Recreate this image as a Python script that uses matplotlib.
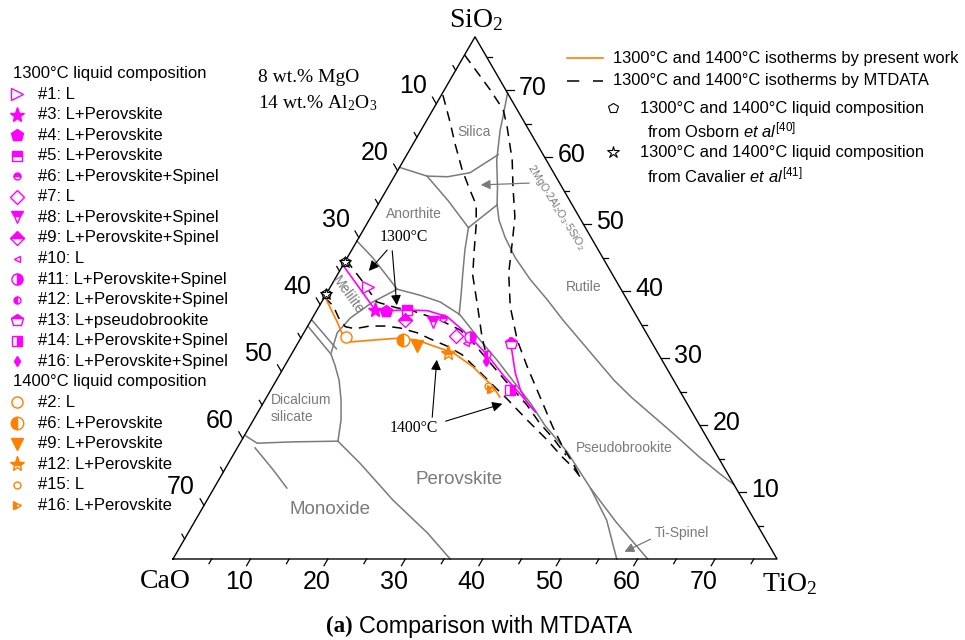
import numpy as np
import matplotlib.pyplot as plt
from matplotlib.lines import Line2D

plt.rcParams['font.family'] = ['Liberation Sans', 'DejaVu Sans']
plt.rcParams['mathtext.fontset'] = 'custom'
plt.rcParams['mathtext.rm'] = 'Liberation Sans'
plt.rcParams['mathtext.it'] = 'Liberation Sans:italic'
plt.rcParams['mathtext.bf'] = 'Liberation Sans:bold'

W, H = 965, 640
TOTAL = 78  # wt.% CaO + SiO2 + TiO2 (8 MgO and 14 Al2O3 fixed)

MAG = '#ff00ff'
ORG = '#ff7f00'
GRAY = '#7a7a7a'

# ---- phase field boundaries, wt.% (TiO2, SiO2), CaO = rest ----
silica_ti = [0.0, 4.2, 6.9, 9.5, 11.8]
silica_si = [58.5, 57.2, 57.1, 57.7, 60.4]
cordierite_ti = [8.4, 9.6, 10.2, 11.2, 12.0, 14.1, 15.4]
cordierite_si = [69.6, 66.0, 64.1, 61.6, 59.6, 55.6, 52.9]
anorthite_ti = [4.2, 8.8, 13.4]
anorthite_si = [57.2, 53.5, 49.5]
junction_ti = [15.4, 14.7, 13.4]
junction_si = [52.9, 51.7, 49.5]
anorthite_low_ti = [13.4, 14.6, 16.2, 17.5, 18.7]
anorthite_low_si = [49.5, 46.2, 42.4, 39.4, 36.5]
rutile_ti = [15.4, 16.8, 18.9, 21.7, 25.2, 29.0, 32.5, 36.2, 39.9, 43.6, 47.2, 51.1, 55.6, 60.4, 64.3, 66.9]
rutile_si = [52.9, 50.6, 48.0, 45.0, 41.8, 38.7, 35.7, 32.7, 29.7, 26.7, 24.1, 21.5, 18.5, 15.2, 12.7, 11.1]
melilite_ti = [0.0, 3.3, 8.8]
melilite_si = [47.5, 45.0, 40.3]
perovskite_top_ti = [8.8, 12.2, 15.3, 18.8, 23.3, 27.0, 30.5, 34.5, 38.0, 42.9, 48.6, 54.6, 61.3]
perovskite_top_si = [40.3, 39.4, 38.4, 36.5, 32.7, 29.7, 26.7, 23.3, 20.0, 16.0, 10.6, 5.4, 0.0]
melilite_low_ti = [8.8, 6.6, 4.9, 4.3, 5.0]
melilite_low_si = [40.3, 38.4, 36.0, 33.8, 30.9]
sliver_a_ti = [0.0, 5.1]
sliver_a_si = [34.8, 30.6]
sliver_b_ti = [0.2, 5.4]
sliver_b_si = [35.6, 31.4]
dicalcium_ti = [5.1, 6.4, 8.1, 9.8, 11.3, 12.5]
dicalcium_si = [30.6, 29.0, 26.7, 23.8, 20.8, 17.6]
dicalcium_low_ti = [0.0, 2.2, 6.8, 12.5]
dicalcium_low_si = [18.5, 17.3, 17.5, 17.6]
monoxide_ti = [12.5, 17.0, 24.0, 30.9, 35.8]
monoxide_si = [17.6, 14.3, 8.8, 3.9, 0.0]
monoxide_short_ti = [2.3, 6.3, 9.4]
monoxide_short_si = [16.6, 13.3, 10.6]
spinel_ti = [48.6, 53.1, 57.3]
spinel_si = [10.6, 5.8, 0.0]

boundaries = [
    (silica_ti, silica_si), (cordierite_ti, cordierite_si),
    (anorthite_ti, anorthite_si), (junction_ti, junction_si),
    (anorthite_low_ti, anorthite_low_si), (rutile_ti, rutile_si),
    (melilite_ti, melilite_si), (perovskite_top_ti, perovskite_top_si),
    (melilite_low_ti, melilite_low_si), (sliver_a_ti, sliver_a_si),
    (sliver_b_ti, sliver_b_si), (dicalcium_ti, dicalcium_si),
    (dicalcium_low_ti, dicalcium_low_si), (monoxide_ti, monoxide_si),
    (monoxide_short_ti, monoxide_short_si), (spinel_ti, spinel_si),
]

# ---- MTDATA isotherms (dashed) ----
mt_a_ti = [0.0, 5.9, 9.1, 10.9, 14.0, 16.1, 18.6, 20.0, 22.0, 24.7, 28.1, 31.4, 35.3, 39.2, 42.0, 44.3, 46.4]
mt_a_si = [75.3, 70.1, 67.1, 64.5, 59.6, 55.6, 51.1, 47.7, 42.7, 37.7, 32.7, 28.7, 24.2, 19.7, 16.7, 14.5, 12.3]
mt_b_ti = [0.2, 2.9, 5.5, 8.3, 10.8, 12.7, 14.2, 15.8, 17.5, 20.3, 23.3, 24.7]
mt_b_si = [69.3, 65.6, 61.9, 58.1, 55.1, 52.9, 49.9, 46.2, 42.4, 38.0, 33.2, 31.2]
mt_1300_ti = [0.0, 3.7, 7.1, 10.2, 12.0, 16.6, 20.0, 22.6, 26.3, 29.9, 34.2, 37.2, 40.0, 43.0]
mt_1300_si = [44.7, 41.5, 38.4, 37.5, 37.2, 35.7, 34.2, 32.3, 29.3, 26.4, 23.0, 20.3, 18.1, 15.5]
mt_1400_ti = [0.0, 1.8, 3.4, 4.9, 6.3, 8.0, 10.0, 12.1, 14.6, 17.2, 19.5, 22.1, 25.7, 28.7, 31.2, 35.3, 39.4, 42.7, 44.8, 46.4]
mt_1400_si = [39.1, 37.8, 36.0, 34.7, 34.4, 34.8, 34.8, 34.5, 33.8, 32.7, 31.8, 30.5, 27.9, 25.7, 23.9, 20.8, 17.8, 15.2, 13.7, 12.3]

# ---- present work isotherms ----
pw_1300_ti = [0.0, 7.5, 9.5, 11.6, 14.3, 17.3, 20.3, 22.4, 25.2, 29.1, 32.7, 35.8]
pw_1300_si = [43.9, 37.2, 37.1, 37.2, 37.1, 36.2, 34.2, 32.7, 30.6, 27.3, 24.5, 22.0]
pw_1300r_ti = [27.0, 28.4, 30.3, 32.2, 34.1, 35.8]
pw_1300r_si = [33.0, 30.8, 27.8, 25.3, 23.3, 22.0]
pw_1400_ti = [0.0, 3.6, 5.4, 6.4, 9.5, 12.8, 15.2, 17.2, 20.8, 24.4, 28.5, 30.1]
pw_1400_si = [39.2, 35.3, 33.2, 32.4, 32.7, 33.0, 32.7, 32.0, 30.8, 28.7, 25.7, 24.2]

# ---- measured liquid compositions ----
labels_1300 = ['#1: L', '#3: L+Perovskite', '#4: L+Perovskite', '#5: L+Perovskite',
               '#6: L+Perovskite+Spinel', '#7: L', '#8: L+Perovskite+Spinel',
               '#9: L+Perovskite+Spinel', '#10: L', '#11: L+Perovskite+Spinel',
               '#12: L+Perovskite+Spinel', '#13: L+pseudobrookite',
               '#14: L+Perovskite+Spinel', '#16: L+Perovskite+Spinel']
ti_1300 = [4.9, 7.5, 8.9, 11.6, 16.9, 19.9, 15.9, 12.1, 21.7, 21.8, 25.2, 27.5, 30.9, 25.6]
si_1300 = [40.6, 37.2, 37.1, 37.2, 36.0, 33.3, 35.4, 35.7, 32.3, 33.2, 30.6, 32.3, 25.3, 29.6]

labels_1400 = ['#2: L', '#6: L+Perovskite', '#9: L+Perovskite', '#12: L+Perovskite',
               '#15: L', '#16: L+Perovskite']
ti_1400 = [5.8, 13.3, 15.6, 20.1, 27.8, 28.4]
si_1400 = [33.2, 32.7, 31.8, 30.8, 25.8, 25.4]

osborn_ti = [0.0, 0.0]
osborn_si = [44.4, 39.6]
cavalier_ti = [0.0, 0.0]
cavalier_si = [44.4, 39.6]

style_1300 = [
    dict(marker='>', ms=9, mfc='white'),
    dict(marker='*', ms=11),
    dict(marker='p', ms=9),
    dict(marker='s', ms=7, fillstyle='top'),
    dict(marker='o', ms=5, fillstyle='top'),
    dict(marker='D', ms=7.5, mfc='white'),
    dict(marker='v', ms=8, fillstyle='top'),
    dict(marker='D', ms=7.5, fillstyle='top'),
    dict(marker='<', ms=5, mfc='white'),
    dict(marker='o', ms=8, fillstyle='right'),
    dict(marker='o', ms=5, fillstyle='left'),
    dict(marker='p', ms=9, fillstyle='top'),
    dict(marker='s', ms=7, fillstyle='right'),
    dict(marker='d', ms=5),
]
style_1400 = [
    dict(marker='o', ms=8, mfc='white'),
    dict(marker='o', ms=9, fillstyle='left'),
    dict(marker='v', ms=9),
    dict(marker='*', ms=11, fillstyle='top'),
    dict(marker='o', ms=5, mfc='white'),
    dict(marker='>', ms=6, fillstyle='left'),
]


def tern(ti, si):
    ti = np.asarray(ti, float)
    si = np.asarray(si, float)
    return ti + si / 2, si * np.sqrt(3) / 2


def mk(color, st):
    kw = dict(color=color, mec=color, mfc=color, markerfacecoloralt='white', mew=1.0)
    kw.update(st)
    return kw


def fp(x, y):
    return x / W, 1 - y / H


fig = plt.figure(figsize=(W / 100, H / 100), dpi=100)
ax = fig.add_axes([0, 0, 1, 1])
ax.set_xlim(-173 / 7.744, (W - 173) / 7.744)
ax.set_ylim((559 - H) / 7.73, 559 / 7.73)
ax.axis('off')

# frame
fx, fy = tern([0, TOTAL, 0, 0], [0, 0, TOTAL, 0])
ax.plot(fx, fy, color='k', lw=1.0, zorder=5)

# ticks and tick labels
h = np.sqrt(3) / 2
for v in range(5, TOTAL, 5):
    L = 1.0 if v % 10 == 0 else 0.7
    bx, by = tern(v, 0)
    ax.plot([bx, bx - 0.5 * L], [by, by - h * L], color='k', lw=0.9)
    lx, ly = tern(0, TOTAL - v)
    ax.plot([lx, lx - 0.5 * L], [ly, ly + h * L], color='k', lw=0.9)
    rx, ry = tern(TOTAL - v, v)
    ax.plot([rx, rx + L], [ry, ry], color='k', lw=0.9)
    if v % 10 == 0:
        ax.annotate(str(v), (bx, by), xytext=(-11, -23), textcoords='offset pixels',
                    ha='center', va='center', fontsize=18)
        ax.annotate(str(v), (lx, ly), xytext=(-23, 18), textcoords='offset pixels',
                    ha='center', va='center', fontsize=18)
        ax.annotate(str(v), (rx, ry), xytext=(27, 2), textcoords='offset pixels',
                    ha='center', va='center', fontsize=18)

serif = 'Liberation Serif'
fig.text(*fp(165, 582), 'CaO', family=serif, fontsize=20, ha='center', va='center')
fig.text(*fp(790, 584), r'TiO$\mathregular{_2}$', family=serif, fontsize=20, ha='center', va='center')
fig.text(*fp(476, 20), r'SiO$\mathregular{_2}$', family=serif, fontsize=20, ha='center', va='center')

# boundaries
for bt, bs in boundaries:
    x, y = tern(bt, bs)
    ax.plot(x, y, color=GRAY, lw=1.1, zorder=2)

# MTDATA dashed
for dt, ds in [(mt_a_ti, mt_a_si), (mt_b_ti, mt_b_si), (mt_1300_ti, mt_1300_si), (mt_1400_ti, mt_1400_si)]:
    x, y = tern(dt, ds)
    ax.plot(x, y, color='k', lw=1.1, dashes=(6.5, 4.5), zorder=3)

# present work
for pt_, ps in [(pw_1300_ti, pw_1300_si), (pw_1300r_ti, pw_1300r_si)]:
    x, y = tern(pt_, ps)
    ax.plot(x, y, color=MAG, lw=1.2, zorder=4)
x, y = tern(pw_1400_ti, pw_1400_si)
ax.plot(x, y, color=ORG, lw=1.2, zorder=4)

for t, s, st in zip(ti_1300, si_1300, style_1300):
    x, y = tern([t], [s])
    ax.plot(x, y, ls='none', zorder=6, **mk(MAG, st))
for t, s, st in zip(ti_1400, si_1400, style_1400):
    x, y = tern([t], [s])
    ax.plot(x, y, ls='none', zorder=6, **mk(ORG, st))

x, y = tern(osborn_ti, osborn_si)
ax.plot(x, y, ls='none', marker='p', ms=7, mfc='white', mec='k', mew=0.8, zorder=7)
x, y = tern(cavalier_ti, cavalier_si)
ax.plot(x, y, ls='none', marker='*', ms=9, mfc='none', mec='k', mew=0.8, zorder=7)

# phase field names
fkw = dict(color=GRAY, ha='center', va='center', fontsize=10)
fig.text(*fp(474, 132), 'Silica', **fkw)
fig.text(*fp(414, 214), 'Anorthite', **fkw)
fig.text(*fp(348, 295), 'Melilite', rotation=-54, **fkw)
fig.text(*fp(271, 400), 'Dicalcium', color=GRAY, ha='left', va='center', fontsize=10)
fig.text(*fp(271, 417), 'silicate', color=GRAY, ha='left', va='center', fontsize=10)
fig.text(*fp(330, 510), 'Monoxide', color=GRAY, ha='center', va='center', fontsize=13.5)
fig.text(*fp(459, 480), 'Perovskite', color=GRAY, ha='center', va='center', fontsize=13.5)
fig.text(*fp(584, 287), 'Rutile', **fkw)
fig.text(*fp(624, 448), 'Pseudobrookite', **fkw)
fig.text(*fp(682, 533), 'Ti-Spinel', **fkw)
fig.text(*fp(556, 207), r'2MgO$\cdot$2Al$_2$O$_3$$\cdot$5SiO$_2$', color=GRAY, ha='center',
         va='center', fontsize=7.8, rotation=-58)

gkw = dict(arrowstyle='-|>', color=GRAY, lw=0.9, mutation_scale=14)
ax.annotate('', xy=fp(478, 185), xycoords='figure fraction', xytext=fp(532, 183),
            textcoords='figure fraction', arrowprops=gkw)
ax.annotate('', xy=fp(622, 553), xycoords='figure fraction', xytext=fp(653, 538),
            textcoords='figure fraction', arrowprops=gkw)

# isotherm callouts
fig.text(*fp(404, 237), '1300°C', family=serif, fontsize=11.3, ha='center', va='center')
fig.text(*fp(414, 428), '1400°C', family=serif, fontsize=11.3, ha='center', va='center')
akw = dict(arrowstyle='-|>', color='k', lw=0.8, mutation_scale=15)
for tail, head in [((389, 248), (367, 273)), ((392, 248), (397, 308)),
                   ((432, 420), (437, 357)), ((443, 422), (505, 403))]:
    ax.annotate('', xy=fp(*head), xycoords='figure fraction', xytext=fp(*tail),
                textcoords='figure fraction', arrowprops=akw)

fig.text(*fp(258, 78), '8 wt.% MgO', family=serif, fontsize=14, ha='left', va='center')
fig.text(*fp(258, 103), r'14 wt.% Al$\mathregular{_2}$O$\mathregular{_3}$', family=serif,
         fontsize=14, ha='left', va='center')

# left legend
y0, dy = 73.5, 20.56
lfs = 12
fig.text(*fp(13, y0), '1300°C liquid composition', fontsize=lfs, ha='left', va='center')
row = 1
for lab, st in zip(labels_1300, style_1300):
    fig.add_artist(Line2D([17 / W], [1 - (y0 + row * dy) / H], transform=fig.transFigure,
                          ls='none', **mk(MAG, st)))
    fig.text(*fp(38, y0 + row * dy), lab, fontsize=lfs, ha='left', va='center')
    row += 1
fig.text(*fp(13, y0 + row * dy), '1400°C liquid composition', fontsize=lfs, ha='left', va='center')
row += 1
for lab, st in zip(labels_1400, style_1400):
    fig.add_artist(Line2D([17 / W], [1 - (y0 + row * dy) / H], transform=fig.transFigure,
                          ls='none', **mk(ORG, st)))
    fig.text(*fp(38, y0 + row * dy), lab, fontsize=lfs, ha='left', va='center')
    row += 1

# right legend
rfs = 11.9
fig.add_artist(Line2D([567 / W, 603 / W], [1 - 58 / H] * 2, transform=fig.transFigure,
                      color=ORG, lw=1.2))
fig.text(*fp(613, 58), '1300°C and 1400°C isotherms by present work', fontsize=rfs,
         ha='left', va='center')
fig.add_artist(Line2D([567 / W, 603 / W], [1 - 80.5 / H] * 2, transform=fig.transFigure,
                      color='k', lw=1.1, dashes=(8, 9)))
fig.text(*fp(613, 80.5), '1300°C and 1400°C isotherms by MTDATA', fontsize=rfs,
         ha='left', va='center')
fig.add_artist(Line2D([613 / W], [1 - 108 / H], transform=fig.transFigure, ls='none',
                      marker='p', ms=7, mfc='white', mec='k', mew=0.8))
fig.text(*fp(640, 108), '1300°C and 1400°C liquid composition', fontsize=rfs,
         ha='left', va='center')
fig.text(*fp(647, 130), r'from Osborn $\mathit{et\ al}^{\mathrm{[40]}}$', fontsize=rfs,
         ha='left', va='center')
fig.add_artist(Line2D([613 / W], [1 - 152 / H], transform=fig.transFigure, ls='none',
                      marker='*', ms=9, mfc='none', mec='k', mew=0.8))
fig.text(*fp(640, 152), '1300°C and 1400°C liquid composition', fontsize=rfs,
         ha='left', va='center')
fig.text(*fp(647, 175), r'from Cavalier $\mathit{et\ al}^{\mathrm{[41]}}$', fontsize=rfs,
         ha='left', va='center')

# caption
fig.text(*fp(326, 626), '(a)', family=serif, weight='bold', fontsize=16.5, ha='left', va='center')
fig.text(*fp(359, 626), 'Comparison with MTDATA', fontsize=16.8, ha='left', va='center')

fig.savefig('out.png', dpi=100, facecolor='white')
